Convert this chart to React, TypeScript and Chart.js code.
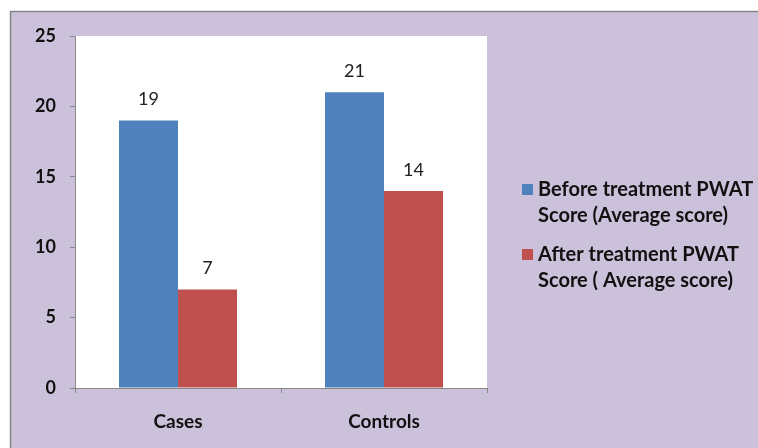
import React, { useEffect, useRef } from "react";
import { Chart, registerables } from "chart.js";
Chart.register(...registerables);

const categories = ["Cases", "Controls"];
const beforeLabel = ["Before treatment PWAT", "Score (Average score)"];
const afterLabel = ["After treatment PWAT", "Score ( Average score)"];
const beforeValues = [19, 21];
const afterValues = [7, 14];
const yTicks = [0, 5, 10, 15, 20, 25];

const FONT = "Lato, 'Open Sans', sans-serif";

export default function App() {
  const ref = useRef<HTMLCanvasElement | null>(null);
  useEffect(() => {
    document.body.style.margin = "0";
    const bg = {
      id: "bg",
      beforeDraw(chart: any) {
        const c = chart.ctx;
        c.save();
        c.fillStyle = "#ffffff";
        c.fillRect(0, 0, chart.width, chart.height);
        c.fillStyle = "#ccc1da";
        c.fillRect(10, 11, chart.width, chart.height);
        c.strokeStyle = "#878787";
        c.lineWidth = 1.5;
        c.beginPath();
        c.moveTo(10.5, chart.height);
        c.lineTo(10.5, 11.5);
        c.lineTo(chart.width, 11.5);
        c.stroke();
        const a = chart.chartArea;
        c.fillStyle = "#ffffff";
        c.fillRect(a.left, a.top, a.right - a.left, a.bottom - a.top);
        c.restore();
      },
      afterDatasetsDraw(chart: any) {
        const c = chart.ctx;
        c.save();
        c.font = `18px ${FONT}`;
        c.fillStyle = "#222";
        c.textAlign = "center";
        c.textBaseline = "middle";
        chart.data.datasets.forEach((ds: any, i: number) => {
          const meta = chart.getDatasetMeta(i);
          meta.data.forEach((bar: any, j: number) => {
            c.fillText(String(ds.data[j]), bar.x, bar.y - 21);
          });
        });
        // legend
        const items = [
          { lines: beforeLabel, color: chart.data.datasets[0].backgroundColor, y: 190 },
          { lines: afterLabel, color: chart.data.datasets[1].backgroundColor, y: 255 },
        ];
        c.font = `bold 20px ${FONT}`;
        c.textAlign = "left";
        items.forEach((it) => {
          c.fillStyle = it.color;
          c.fillRect(522, it.y - 6, 11, 11);
          c.fillStyle = "#111";
          it.lines.forEach((ln: string, k: number) => {
            c.fillText(ln, 538, it.y + k * 25.5);
          });
        });
        c.restore();
      },
    };
    const chart = new Chart(ref.current!, {
      type: "bar",
      data: {
        labels: categories,
        datasets: [
          { label: beforeLabel.join(" "), data: beforeValues, backgroundColor: "#4f81bd", categoryPercentage: 0.573, barPercentage: 1 },
          { label: afterLabel.join(" "), data: afterValues, backgroundColor: "#c0504d", categoryPercentage: 0.573, barPercentage: 1 },
        ],
      },
      options: {
        animation: false,
        responsive: false,
        layout: { padding: { left: 0, right: 271, top: 36, bottom: 0 } },
        plugins: { legend: { display: false }, tooltip: { enabled: false } },
        scales: {
          x: {
            afterFit(s: any) { s.height = 60; },
            grid: { display: true, drawOnChartArea: false, tickLength: 5, color: "#888", offset: true },
            border: { color: "#888", width: 1 },
            ticks: { color: "#111", font: { family: FONT, size: 19, weight: "bold" }, padding: 17 },
          },
          y: {
            min: 0,
            max: 25,
            afterFit(s: any) { s.width = 75; },
            afterBuildTicks(s: any) { s.ticks = yTicks.map((v) => ({ value: v })); },
            grid: { display: true, drawOnChartArea: false, tickLength: 5, color: "#888" },
            border: { color: "#888", width: 1 },
            ticks: { color: "#111", font: { family: FONT, size: 18, weight: "bold" }, padding: 14 },
          },
        },
      },
      plugins: [bg],
    });
    return () => chart.destroy();
  }, []);
  return <canvas ref={ref} width={758} height={448} style={{ display: "block" }} />;
}
